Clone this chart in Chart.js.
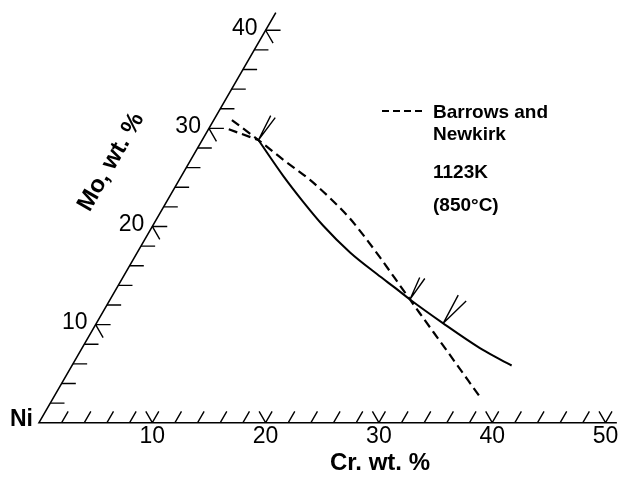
<!DOCTYPE html>
<html>
<head>
<meta charset="utf-8">
<script src="https://cdn.jsdelivr.net/npm/chart.js@4.4.0/dist/chart.umd.min.js"></script>
<style>
  body { margin: 0; background: #fff; }
  #wrap { width: 619px; height: 482px; }
</style>
</head>
<body>
<div id="wrap"><canvas id="ternary" width="619" height="482"></canvas></div>
<script>
// composition values in wt.% (Cr, Mo), Ni is the balance
const crTicks = [10, 20, 30, 40, 50];
const moTicks = [10, 20, 30, 40];

// Barrows and Newkirk boundary (dashed)
const barrowsCr = [1.60, 4.96, 8.13, 11.55, 14.23, 17.04, 19.32, 21.68, 24.07, 26.46, 28.06, 32.36, 37.44];
const barrowsMo = [30.85, 28.81, 26.82, 24.74, 22.90, 20.81, 18.90, 16.84, 14.70, 12.56, 11.13, 7.31, 2.77];

// present boundary (solid) + its dashed extension to the upper left
const boundCr = [4.96, 8.94, 12.03, 15.02, 18.78, 22.25, 24.77, 26.46, 30.61, 35.11, 37.08, 38.80];
const boundMo = [28.81, 25.19, 22.54, 20.10, 17.35, 15.15, 13.61, 12.56, 10.13, 7.61, 6.64, 5.83];
const extCr = [1.8, 4.96];
const extMo = [29.9, 28.81];

// tie-line stubs, one pair per corner point
const tieStartCr = [4.96, 26.46, 30.61];
const tieStartMo = [28.81, 12.56, 10.13];
const tieEndCr = [[4.8, 5.3], [26.2, 26.7], [30.5, 31.5]];
const tieEndMo = [[31.3, 31.1], [14.8, 14.7], [13.0, 12.4]];

const H = Math.sqrt(3) / 2;
function pt(cr, mo) {
    return { x: cr + mo / 2, y: mo * H };
}
function line(crs, mos) {
    return crs.map((c, i) => pt(c, mos[i]));
}

// axis frame and tick marks, broken up with null points
let frame = [pt(0, 41.8), pt(0, 0), pt(51, 0)];
let ticks = [];
const gap = { x: null, y: null };
for (let c = 2; c <= 50; c += 2) {
    let p = pt(c, 0);
    let len = 1.15;
    ticks.push(p, { x: p.x + len * 0.5, y: p.y + len * H }, gap);
    if (crTicks.includes(c)) {
        ticks.push(p, { x: p.x - len * 0.5, y: p.y + len * H }, gap);
    }
}
for (let m = 2; m <= 40; m += 2) {
    let p = pt(0, m);
    let major = moTicks.includes(m);
    let len = major ? 1.32 : 1.25;
    ticks.push(p, { x: p.x + len, y: p.y }, gap);
    if (major) {
        ticks.push(p, { x: p.x + len * 0.5, y: p.y - len * H }, gap);
    }
}
let ties = [];
tieStartCr.forEach((c, i) => {
    ties.push(pt(c, tieStartMo[i]), pt(tieEndCr[i][0], tieEndMo[i][0]), gap);
    ties.push(pt(c, tieStartMo[i]), pt(tieEndCr[i][1], tieEndMo[i][1]), gap);
});

const FONT = '"Liberation Sans", Arial, Helvetica, sans-serif';

const textPlugin = {
    id: 'ternaryText',
    afterDraw(chart) {
        const ctx = chart.ctx;
        const xs = chart.scales.x, ys = chart.scales.y;
        const toPx = (cr, mo) => [xs.getPixelForValue(cr + mo / 2), ys.getPixelForValue(mo * H)];
        ctx.save();
        ctx.fillStyle = '#000';

        // Cr tick labels
        ctx.font = '23px ' + FONT;
        ctx.textAlign = 'center';
        ctx.textBaseline = 'middle';
        crTicks.forEach(c => {
            let [x, y] = toPx(c, 0);
            ctx.fillText(String(c), x, y + 14);
        });
        // Mo tick labels
        ctx.textAlign = 'right';
        moTicks.forEach(m => {
            let [x, y] = toPx(0, m);
            ctx.fillText(String(m), x - 8, y - 2);
        });

        // corner and axis titles
        ctx.font = 'bold 23px ' + FONT;
        let [nx, ny] = toPx(0, 0);
        ctx.fillText('Ni', nx - 6, ny - 3);

        ctx.font = 'bold 24px ' + FONT;
        ctx.textAlign = 'center';
        ctx.fillText('Cr. wt. %', 380, 463);

        ctx.save();
        ctx.translate(111, 162);
        ctx.rotate(-Math.PI / 3);
        ctx.fillText('Mo, wt. %', 0, 0);
        ctx.restore();

        // legend / annotation
        ctx.lineWidth = 2;
        ctx.strokeStyle = '#000';
        ctx.setLineDash([7, 4]);
        ctx.beginPath();
        ctx.moveTo(382, 111);
        ctx.lineTo(424, 111);
        ctx.stroke();
        ctx.setLineDash([]);

        ctx.font = 'bold 19px ' + FONT;
        ctx.textAlign = 'left';
        ctx.textBaseline = 'alphabetic';
        ctx.fillText('Barrows and', 433, 118);
        ctx.fillText('Newkirk', 433, 140);
        ctx.fillText('1123K', 433, 178);
        ctx.fillText('(850°C)', 433, 211);
        ctx.restore();
    }
};

var ctx = document.getElementById('ternary').getContext('2d');
var chart = new Chart(ctx, {
    type: 'scatter',
    data: {
        datasets: [
            { label: 'frame', data: frame, borderWidth: 1.6 },
            { label: 'ticks', data: ticks, borderWidth: 1.4 },
            { label: 'Barrows and Newkirk', data: line(barrowsCr, barrowsMo), borderWidth: 2.2, borderDash: [9, 5], cubicInterpolationMode: 'monotone' },
            { label: 'boundary', data: line(boundCr, boundMo), borderWidth: 2, cubicInterpolationMode: 'monotone' },
            { label: 'extension', data: line(extCr, extMo), borderWidth: 2.2, borderDash: [9, 5] },
            { label: 'tie lines', data: ties, borderWidth: 1.4 }
        ].map(d => Object.assign({
            showLine: true,
            spanGaps: false,
            pointRadius: 0,
            borderColor: '#000',
            backgroundColor: '#000',
            fill: false
        }, d))
    },
    options: {
        responsive: false,
        animation: false,
        layout: { padding: 0 },
        plugins: {
            legend: { display: false },
            tooltip: { enabled: false }
        },
        scales: {
            x: { type: 'linear', display: false, min: -3.442, max: 51.19 },
            y: { type: 'linear', display: false, min: -5.234, max: 37.31 }
        }
    },
    plugins: [textPlugin]
});
</script>
</body>
</html>
